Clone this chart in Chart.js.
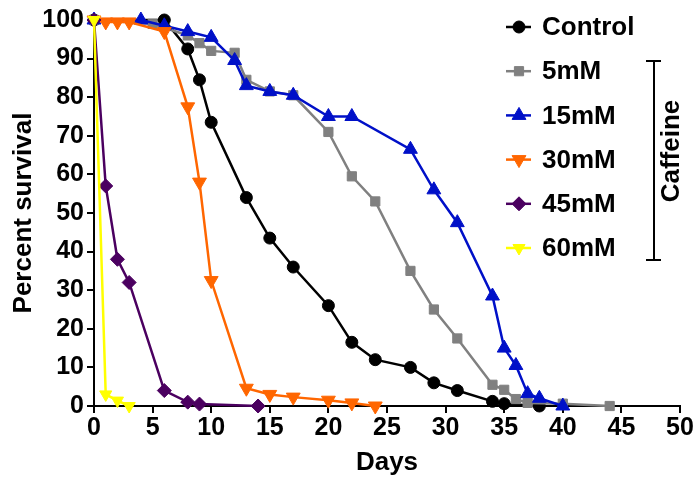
<!DOCTYPE html>
<html>
<head>
<meta charset="utf-8">
<script src="https://cdn.jsdelivr.net/npm/chart.js@4/dist/chart.umd.min.js"></script>
<style>
  body { margin: 0; background: #fff; }
  #wrap { width: 696px; height: 480px; }
</style>
</head>
<body>
<div id="wrap"><canvas id="grafico" width="696" height="480"></canvas></div>
<script>
// dati (giorni / % sopravvivenza)
var seriesNames = ['Control', '5mM', '15mM', '30mM', '45mM', '60mM'];

var controlDays = [0, 6, 8, 9, 10, 13, 15, 17, 20, 22, 24, 27, 29, 31, 34, 35, 38];
var controlVals = [100, 100, 92.5, 84.5, 73.5, 54, 43.5, 36, 26, 16.5, 12, 10, 6, 4, 1.2, 0.6, 0];

var mM5Days = [0, 5, 8, 9, 10, 12, 13, 15, 17, 20, 22, 24, 27, 29, 31, 34, 35, 36, 37, 40, 44];
var mM5Vals = [100, 99, 96, 94, 92, 91.5, 84.5, 81.5, 80.5, 71, 59.5, 53, 35, 25, 17.5, 5.5, 4.2, 1.8, 0.8, 0.6, 0];

var mM15Days = [0, 4, 6, 8, 10, 12, 13, 15, 17, 20, 22, 27, 29, 31, 34, 35, 36, 37, 38, 40];
var mM15Vals = [100, 100, 98.5, 97, 95.5, 89.5, 83, 81.5, 80.5, 75, 75, 66.5, 56, 47.5, 28.5, 15, 10.5, 3.2, 2, 0];

var mM30Days = [0, 1, 2, 3, 6, 8, 9, 10, 13, 15, 17, 20, 22, 24];
var mM30Vals = [100, 99.5, 99.5, 99.5, 97, 77.5, 58, 32.5, 4.6, 3, 2.3, 1.5, 0.8, 0];

var mM45Days = [0, 1, 2, 3, 6, 8, 9, 14];
var mM45Vals = [100, 57, 38, 32, 4, 1, 0.5, 0];

var mM60Days = [0, 1, 2, 3];
var mM60Vals = [100, 3, 1.4, 0];

var xTicks = [0, 5, 10, 15, 20, 25, 30, 35, 40, 45, 50];
var yTicks = [0, 10, 20, 30, 40, 50, 60, 70, 80, 90, 100];

var allDays = [controlDays, mM5Days, mM15Days, mM30Days, mM45Days, mM60Days];
var allVals = [controlVals, mM5Vals, mM15Vals, mM30Vals, mM45Vals, mM60Vals];

var colori = ['#000000', '#808080', '#0010C8', '#FF6600', '#4B0060', '#FFFF00'];
var stili = ['circle', 'rect', 'triangle', 'triangle', 'rectRot', 'triangle'];
var rotazioni = [0, 0, 0, 180, 0, 180];
var raggi = [6, 6.5, 8, 8, 7, 7];

var FONT = "'Liberation Sans', Arial, sans-serif";

var datasets = [];
for (var i = 0; i < seriesNames.length; i++) {
    var punti = [];
    for (var j = 0; j < allDays[i].length; j++) {
        punti.push({ x: allDays[i][j], y: allVals[i][j] });
    }
    datasets.push({
        label: seriesNames[i],
        data: punti,
        showLine: true,
        borderColor: colori[i],
        backgroundColor: colori[i],
        borderWidth: 2.5,
        pointStyle: stili[i],
        pointRotation: rotazioni[i],
        pointRadius: raggi[i],
        pointBorderWidth: 1,
        clip: false,
        order: seriesNames.length - i
    });
}

// legenda personalizzata + parentesi "Caffeine"
var legendaPlugin = {
    id: 'legendaPlugin',
    afterDraw: function(chart) {
        var ctx = chart.ctx;
        ctx.save();
        for (var i = 0; i < seriesNames.length; i++) {
            var y = 27 + i * 44.2;
            ctx.strokeStyle = colori[i];
            ctx.fillStyle = colori[i];
            ctx.lineWidth = 2.5;
            ctx.beginPath();
            ctx.moveTo(506, y);
            ctx.lineTo(531, y);
            ctx.stroke();
            ctx.lineWidth = 1;
            Chart.helpers.drawPoint(ctx, {
                pointStyle: stili[i],
                rotation: rotazioni[i],
                radius: raggi[i],
                borderWidth: 1
            }, 519, y);
            ctx.fillStyle = '#000';
            ctx.font = 'bold 26px ' + FONT;
            ctx.textAlign = 'left';
            ctx.textBaseline = 'middle';
            ctx.fillText(seriesNames[i], 542, y + 1);
        }
        // parentesi
        ctx.strokeStyle = '#000';
        ctx.lineWidth = 2;
        ctx.beginPath();
        ctx.moveTo(646, 61); ctx.lineTo(661, 61);
        ctx.moveTo(654, 61); ctx.lineTo(654, 260);
        ctx.moveTo(646, 260); ctx.lineTo(661, 260);
        ctx.stroke();
        ctx.translate(672, 151);
        ctx.rotate(-Math.PI / 2);
        ctx.fillStyle = '#000';
        ctx.font = 'bold 26px ' + FONT;
        ctx.textAlign = 'center';
        ctx.textBaseline = 'middle';
        ctx.fillText('Caffeine', 0, 0);
        ctx.restore();
    }
};

var ctx = document.getElementById('grafico');
var chart = new Chart(ctx, {
    type: 'scatter',
    data: { datasets: datasets },
    options: {
        responsive: false,
        animation: false,
        layout: { padding: { left: 0, right: 16, top: 20, bottom: 0 } },
        plugins: {
            legend: { display: false },
            tooltip: { enabled: false }
        },
        scales: {
            x: {
                type: 'linear',
                min: 0,
                max: 50,
                afterFit: function(s) { s.height = 74; },
                afterBuildTicks: function(s) { s.ticks = xTicks.map(function(v) { return { value: v }; }); },
                ticks: { color: '#000', font: { family: FONT, size: 25, weight: 'bold' }, padding: 0, maxRotation: 0 },
                grid: { drawOnChartArea: false, drawTicks: true, tickLength: 7, color: '#000', lineWidth: 2 },
                border: { color: '#000', width: 2 },
                title: { display: true, text: 'Days', color: '#000', font: { family: FONT, size: 26, weight: 'bold' }, padding: { top: 0, bottom: 2 } }
            },
            y: {
                type: 'linear',
                min: 0,
                max: 100,
                afterFit: function(s) { s.width = 94; },
                afterBuildTicks: function(s) { s.ticks = yTicks.map(function(v) { return { value: v }; }); },
                ticks: { color: '#000', font: { family: FONT, size: 25, weight: 'bold' }, padding: 3 },
                grid: { drawOnChartArea: false, drawTicks: true, tickLength: 7, color: '#000', lineWidth: 2 },
                border: { color: '#000', width: 2 },
                title: { display: true, text: 'Percent survival', color: '#000', font: { family: FONT, size: 26, weight: 'bold' }, padding: { top: 8, bottom: 2 } }
            }
        }
    },
    plugins: [legendaPlugin]
});
</script>
</body>
</html>
